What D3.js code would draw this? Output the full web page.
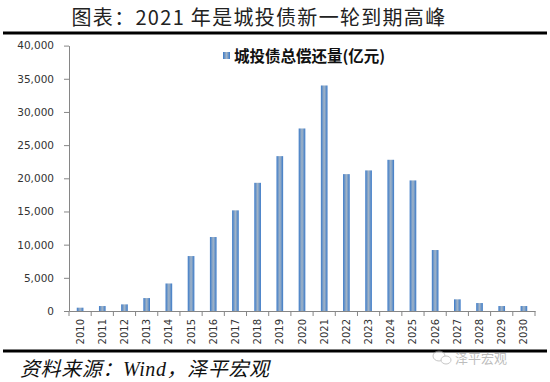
<!DOCTYPE html>
<html>
<head>
<meta charset="utf-8">
<script src="https://cdn.jsdelivr.net/npm/d3@7"></script>
<style>
	body { margin: 0; background: #fff; }
	svg { display: block; }
</style>
</head>
<body>
<svg width="550" height="382"></svg>
<script>
// Data
const years = ["2010", "2011", "2012", "2013", "2014", "2015", "2016", "2017", "2018", "2019", "2020",
	"2021", "2022", "2023", "2024", "2025", "2026", "2027", "2028", "2029", "2030"];
const repay = [500, 750, 1000, 1950, 4150, 8280, 11150, 15170, 19320, 23340, 27510,
	33990, 20630, 21190, 22790, 19680, 9190, 1760, 1200, 750, 750];
const yTicks = [0, 5000, 10000, 15000, 20000, 25000, 30000, 35000, 40000];
const seriesName = "城投债总偿还量(亿元)";

// plot box (window.top is taken, so plot* names)
const svg = d3.select("svg"),
	plotLeft = 69,
	plotRight = 535,
	plotTop = 45.6,
	plotBottom = 311;

const cjk = "'Noto Sans CJK SC', 'Noto Sans', sans-serif";
const tickFont = "'DejaVu Sans', Verdana, sans-serif";

// bar gradient (blue edges, grey-blue middle)
const grad = svg.append("defs").append("linearGradient")
	.attr("id", "barGrad")
	.attr("x1", "0%").attr("x2", "100%").attr("y1", "0%").attr("y2", "0%");
[["0%", "#3a79c8"], ["25%", "#6f98c8"], ["50%", "#a3b4c6"], ["75%", "#6f98c8"], ["100%", "#3a79c8"]]
	.forEach(([o, c]) => grad.append("stop").attr("offset", o).attr("stop-color", c));

// title + rules
svg.append("text")
	.attr("x", 259).attr("y", 25)
	.attr("text-anchor", "middle")
	.style("font-family", cjk)
	.style("font-size", "20px")
	.style("letter-spacing", "1.3px")
	.style("fill", "#222")
	.text("图表：2021 年是城投债新一轮到期高峰");

svg.append("line")
	.attr("x1", 3).attr("x2", 547).attr("y1", 33).attr("y2", 33)
	.attr("stroke", "#000").attr("stroke-width", 3);

svg.append("line")
	.attr("x1", 3).attr("x2", 547).attr("y1", 351).attr("y2", 351)
	.attr("stroke", "#000").attr("stroke-width", 3);

const xScale = d3.scaleBand()
	.domain(years)
	.range([plotLeft, plotRight])
	.paddingInner(0)
	.paddingOuter(0);

const yScale = d3.scaleLinear()
	.domain([0, 40000])
	.range([plotBottom, plotTop]);

const g = svg.append("g");

// bars
const barW = xScale.bandwidth() * 0.3;
g.selectAll(".bar")
	.data(years.map((y, i) => ({ year: y, value: repay[i] })))
	.enter()
	.append("rect")
	.attr("class", "bar")
	.attr("x", (d) => xScale(d.year) + (xScale.bandwidth() - barW) / 2)
	.attr("y", (d) => yScale(d.value))
	.attr("width", barW)
	.attr("height", (d) => plotBottom - yScale(d.value))
	.attr("fill", "url(#barGrad)");

// y axis
const yAxis = g.append("g")
	.attr("transform", `translate(${plotLeft},0)`)
	.call(d3.axisLeft(yScale).tickValues(yTicks).tickSize(5).tickSizeOuter(0)
		.tickFormat(d3.format(",")));
yAxis.select(".domain").attr("stroke", "#868686");
yAxis.selectAll(".tick line").attr("stroke", "#868686");
yAxis.selectAll(".tick text")
	.attr("x", -15)
	.style("font-family", tickFont)
	.style("font-size", "10.5px")
	.style("fill", "#333");

// x axis: ticks sit between categories
const xAxis = g.append("g")
	.attr("transform", `translate(0,${plotBottom})`)
	.call(d3.axisBottom(xScale).tickSize(0).tickSizeOuter(0));
xAxis.select(".domain").attr("stroke", "#868686");
xAxis.selectAll(".tick text")
	.attr("transform", "rotate(-90)")
	.attr("x", -8)
	.attr("y", 0)
	.attr("dy", "0.35em")
	.attr("text-anchor", "end")
	.style("font-family", tickFont)
	.style("font-size", "10px")
	.style("fill", "#333");

g.selectAll(".xsep")
	.data(years.concat(["end"]))
	.enter()
	.append("line")
	.attr("class", "xsep")
	.attr("x1", (d, i) => (i < years.length ? xScale(d) : plotRight))
	.attr("x2", (d, i) => (i < years.length ? xScale(d) : plotRight))
	.attr("y1", plotBottom)
	.attr("y2", plotBottom + 5)
	.attr("stroke", "#868686");

// legend
svg.append("rect")
	.attr("x", 223).attr("y", 52)
	.attr("width", 7).attr("height", 7)
	.attr("fill", "url(#barGrad)");
svg.append("text")
	.attr("x", 234).attr("y", 62)
	.style("font-family", cjk)
	.style("font-size", "15.5px")
	.style("font-weight", "bold")
	.style("fill", "#111")
	.text(seriesName);

// source line
svg.append("text")
	.attr("x", 20).attr("y", 376)
	.style("font-family", "'Liberation Serif', " + cjk)
	.style("font-style", "italic")
	.style("font-size", "20px")
	.style("letter-spacing", "0.6px")
	.style("fill", "#111")
	.text("资料来源：Wind，泽平宏观");

// watermark
const wm = svg.append("g").attr("opacity", 0.55);
wm.append("ellipse").attr("cx", 439).attr("cy", 356).attr("rx", 6).attr("ry", 5)
	.attr("fill", "#fff").attr("stroke", "#999");
wm.append("ellipse").attr("cx", 446).attr("cy", 360).attr("rx", 5).attr("ry", 4)
	.attr("fill", "#fff").attr("stroke", "#999");
wm.append("text")
	.attr("x", 455).attr("y", 363)
	.style("font-family", cjk)
	.style("font-size", "13px")
	.style("fill", "#888")
	.text("泽平宏观");
</script>
</body>
</html>
